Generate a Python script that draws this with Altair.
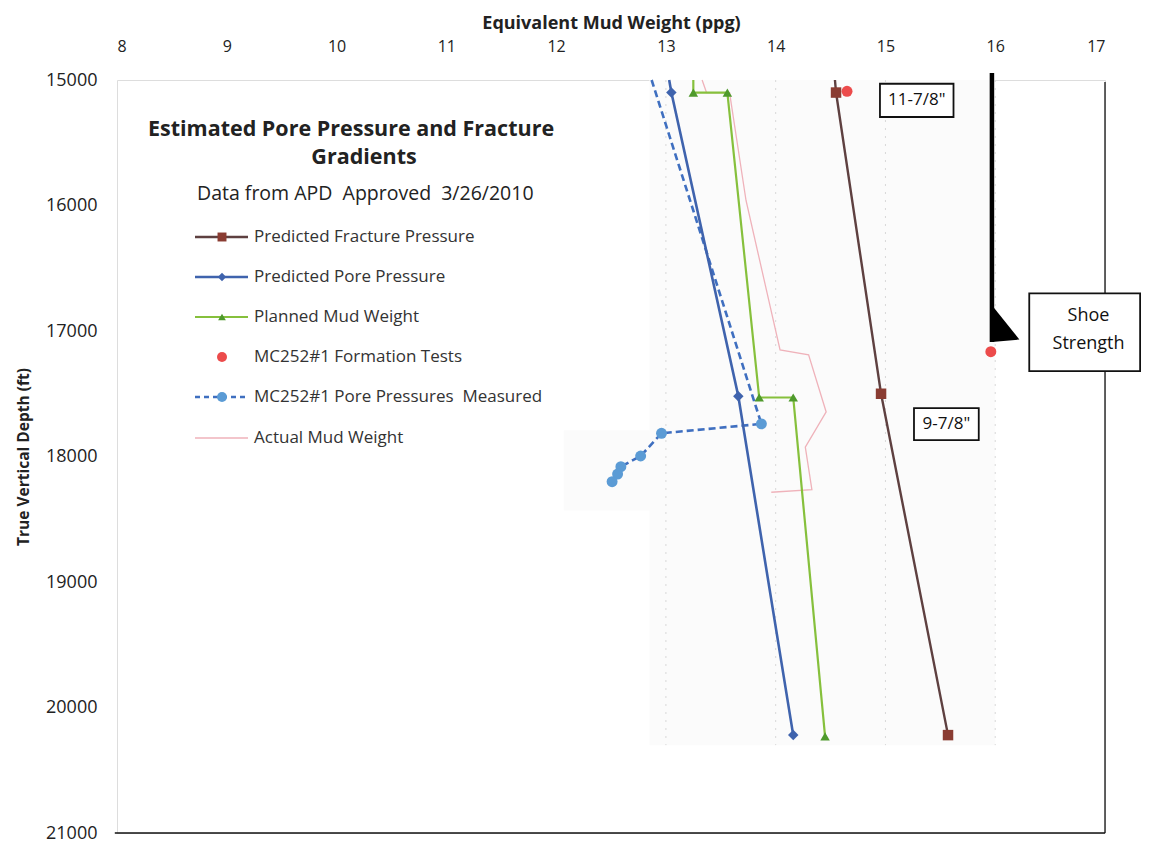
import altair as alt
import pandas as pd

FONT = "Open Sans"

# ---------------- data ----------------
x_ticks = [8, 9, 10, 11, 12, 13, 14, 15, 16, 17]
y_ticks = [15000, 16000, 17000, 18000, 19000, 20000, 21000]

frac_depth = [15000, 15100, 17500, 20220]
frac_ppg = [14.54, 14.55, 14.96, 15.57]

pore_depth = [15000, 15100, 17520, 20220]
pore_ppg = [13.03, 13.05, 13.66, 14.16]

plan_depth = [15000, 15100, 15100, 17530, 17530, 20230]
plan_ppg = [13.25, 13.25, 13.56, 13.85, 14.16, 14.45]

test_depth = [15090, 17165]
test_ppg = [14.65, 15.96]

meas_depth = [15000, 17740, 17815, 17996, 18081, 18140, 18201]
meas_ppg = [12.87, 13.87, 12.96, 12.77, 12.59, 12.56, 12.51]

actual_depth = [15000, 15100, 15100, 15960, 17150, 17190, 17645, 17925, 18265, 18285]
actual_ppg = [13.33, 13.37, 13.58, 13.73, 14.04, 14.30, 14.46, 14.27, 14.33, 13.96]

grid_ppg = [13, 14, 15, 16]

legend_labels = [
    "Predicted Fracture Pressure",
    "Predicted Pore Pressure",
    "Planned Mud Weight",
    "MC252#1 Formation Tests",
    "MC252#1 Pore Pressures\u00a0 Measured",
    "Actual Mud Weight",
]

title_lines = ["Estimated Pore Pressure and Fracture", "Gradients"]
subtitle = "Data from APD\u00a0 Approved\u00a0 3/26/2010"

box_labels = ["11-7/8\"", "9-7/8\""]
box_x1 = [14.95, 15.26]
box_x2 = [15.62, 15.85]
box_y1 = [15030, 17615]
box_y2 = [15295, 17870]

shoe_label = ["Shoe", "Strength"]
shoe_box = dict(ppg=16.31, ppg2=17.32, depth=16700, depth2=17320)
shoe_line = dict(ppg=15.97, depth=14945, depth2=17088)
shoe_tri_ppg = [15.97, 16.22]
shoe_tri_top = [16795, 17068]
shoe_tri_bot = [17088, 17068]

# ---------------- colours ----------------
C_FRAC_LINE = "#5e4040"
C_FRAC_MARK = "#8a3c32"
C_PORE = "#3f63ad"
C_PLAN_LINE = "#86c03c"
C_PLAN_MARK = "#4f9a2c"
C_TEST = "#ec4b4b"
C_MEAS_LINE = "#3f6fc0"
C_MEAS_MARK = "#5b9bd5"
C_ACT = "#efb2ba"


def df(ppg, depth):
    return pd.DataFrame({"ppg": ppg, "depth": depth, "i": list(range(len(ppg)))})


xscale = alt.Scale(domain=[8, 17], nice=False, zero=False)
yscale = alt.Scale(domain=[15000, 21000], reverse=True, nice=False, zero=False)

xaxis = alt.Axis(
    orient="top", values=x_ticks, grid=False, domain=False, ticks=False, tickSize=0,
    labelFontSize=16, labelPadding=26, labelColor="#222", labelFont=FONT,
    title="Equivalent Mud Weight (ppg)", titleFontSize=18, titleFontWeight="bold",
    titleFont=FONT, titleColor="#222", titlePadding=6,
)
yaxis = alt.Axis(
    orient="left", values=y_ticks, format="d", grid=False, domain=False, ticks=False, tickSize=0,
    labelFontSize=18, labelPadding=20, labelColor="#222", labelFont=FONT,
    title="True Vertical Depth (ft)", titleFontSize=15.5, titleFontWeight="bold",
    titleFont=FONT, titleColor="#222", titlePadding=14,
)

X = alt.X("ppg:Q", scale=xscale, axis=xaxis)
Y = alt.Y("depth:Q", scale=yscale, axis=yaxis)
ORD = alt.Order("i:Q")

layers = []

# faint background of the pasted figure
shade = pd.DataFrame({"ppg": [12.85, 12.07], "ppg2": [16.0, 13.75],
                      "depth": [15000, 17790], "depth2": [20300, 18430]})
layers.append(alt.Chart(shade).mark_rect(color="#fbfbfb").encode(
    x=X, x2="ppg2:Q", y=Y, y2="depth2:Q"))

# dotted grid lines
grid_df = pd.DataFrame({"ppg": grid_ppg, "depth": [15000] * 4, "depth2": [20300] * 4})
layers.append(alt.Chart(grid_df).mark_rule(color="#d8d8d8", strokeDash=[2, 6], strokeWidth=1).encode(
    x=X, y=Y, y2="depth2:Q"))

# frame lines (bottom and right)
frame_b = pd.DataFrame({"ppg": [7.98], "ppg2": [17.0], "depth": [21000]})
layers.append(alt.Chart(frame_b).mark_rule(color="#111", strokeWidth=1.6).encode(
    x=X, x2="ppg2:Q", y=Y))
frame_r = pd.DataFrame({"ppg": [17.0], "depth": [15015], "depth2": [21000]})
layers.append(alt.Chart(frame_r).mark_rule(color="#111", strokeWidth=1.3).encode(
    x=X, y=Y, y2="depth2:Q"))

# actual mud weight
layers.append(alt.Chart(df(actual_ppg, actual_depth)).mark_line(color=C_ACT, strokeWidth=1.3).encode(
    x=X, y=Y, order=ORD))

# measured pore pressures
meas = df(meas_ppg, meas_depth)
layers.append(alt.Chart(meas).mark_line(color=C_MEAS_LINE, strokeWidth=2.6, strokeDash=[7, 4]).encode(
    x=X, y=Y, order=ORD))
layers.append(alt.Chart(meas).transform_filter("datum.depth > 15000").mark_point(
    shape="circle", filled=True, color=C_MEAS_MARK, size=120, opacity=1).encode(x=X, y=Y))

# predicted pore pressure
pore = df(pore_ppg, pore_depth)
layers.append(alt.Chart(pore).mark_line(color=C_PORE, strokeWidth=2.6).encode(x=X, y=Y, order=ORD))
layers.append(alt.Chart(pore).transform_filter("datum.depth > 15000").mark_point(
    shape="diamond", filled=True, color=C_PORE, size=110, opacity=1).encode(x=X, y=Y))

# planned mud weight
plan = df(plan_ppg, plan_depth)
layers.append(alt.Chart(plan).mark_line(color=C_PLAN_LINE, strokeWidth=2.2).encode(x=X, y=Y, order=ORD))
layers.append(alt.Chart(plan).transform_filter("datum.depth > 15000").mark_point(
    shape="triangle-up", filled=True, color=C_PLAN_MARK, size=90, opacity=1).encode(x=X, y=Y))

# predicted fracture pressure
frac = df(frac_ppg, frac_depth)
layers.append(alt.Chart(frac).mark_line(color=C_FRAC_LINE, strokeWidth=2.4).encode(x=X, y=Y, order=ORD))
layers.append(alt.Chart(frac).transform_filter("datum.depth > 15000").mark_point(
    shape="square", filled=True, color=C_FRAC_MARK, size=110, opacity=1).encode(x=X, y=Y))

# formation tests
layers.append(alt.Chart(df(test_ppg, test_depth)).mark_point(
    shape="circle", filled=True, color=C_TEST, size=120, opacity=1).encode(x=X, y=Y))

# shoe strength marker: thick line + triangle
sl = pd.DataFrame({k: [v] for k, v in shoe_line.items()})
layers.append(alt.Chart(sl).mark_rule(color="#000", strokeWidth=4.5).encode(x=X, y=Y, y2="depth2:Q"))
tri = pd.DataFrame({"ppg": shoe_tri_ppg, "depth": shoe_tri_top, "depth2": shoe_tri_bot})
layers.append(alt.Chart(tri).mark_area(color="#000", opacity=1).encode(x=X, y=Y, y2="depth2:Q"))

# casing boxes
boxes = pd.DataFrame({"ppg": box_x1, "ppg2": box_x2, "depth": box_y1, "depth2": box_y2,
                      "label": box_labels})
boxes["cx"] = (boxes["ppg"] + boxes["ppg2"]) / 2
boxes["cy"] = (boxes["depth"] + boxes["depth2"]) / 2
layers.append(alt.Chart(boxes).mark_rect(fill="white", stroke="#111", strokeWidth=1.8).encode(
    x=X, x2="ppg2:Q", y=Y, y2="depth2:Q"))
layers.append(alt.Chart(boxes).mark_text(font=FONT, fontSize=17, color="#111", baseline="middle").encode(
    x=alt.X("cx:Q", scale=xscale, axis=xaxis), y=alt.Y("cy:Q", scale=yscale, axis=yaxis), text="label:N"))

sb = pd.DataFrame({k: [v] for k, v in shoe_box.items()})
layers.append(alt.Chart(sb).mark_rect(fill="white", stroke="#111", strokeWidth=1.8).encode(
    x=X, x2="ppg2:Q", y=Y, y2="depth2:Q"))
sbt = pd.DataFrame({"ppg": [16.85, 16.85],
                    "depth": [16880, 17100], "label": shoe_label})
layers.append(alt.Chart(sbt).mark_text(font=FONT, fontSize=18, color="#111", baseline="middle").encode(
    x=X, y=Y, text="label:N"))

# ---------------- in-plot title and legend ----------------
one = pd.DataFrame({"a": [0]})


def txt(s, x, y, size, weight="normal", align="left", color="#333"):
    return alt.Chart(one).mark_text(font=FONT, fontSize=size, fontWeight=weight, align=align,
                                    baseline="middle", color=color).encode(
        x=alt.value(x), y=alt.value(y), text=alt.value(s))


layers.append(txt(title_lines[0], 234, 50, 21.5, "bold", "center", "#222"))
layers.append(txt(title_lines[1], 247, 78, 21.5, "bold", "center", "#222"))
layers.append(txt(subtitle, 80, 114, 19.5, "normal", "left", "#222"))

leg_y = [157, 197, 237, 277, 317, 358]
LX1, LX2, LXM, LXT = 78, 131, 105, 137

leg_specs = [
    dict(line=C_FRAC_LINE, dash=None, w=2.4, shape="square", mcol=C_FRAC_MARK, size=80),
    dict(line=C_PORE, dash=None, w=2.4, shape="diamond", mcol=C_PORE, size=70),
    dict(line=C_PLAN_LINE, dash=None, w=2.0, shape="triangle-up", mcol=C_PLAN_MARK, size=60),
    dict(line=None, dash=None, w=0, shape="circle", mcol=C_TEST, size=100),
    dict(line=C_MEAS_LINE, dash=[5, 4], w=2.4, shape="circle", mcol=C_MEAS_MARK, size=100),
    dict(line=C_ACT, dash=None, w=1.3, shape=None, mcol=None, size=0),
]

for yy, lab, sp in zip(leg_y, legend_labels, leg_specs):
    if sp["line"]:
        kw = dict(color=sp["line"], strokeWidth=sp["w"])
        if sp["dash"]:
            kw["strokeDash"] = sp["dash"]
        layers.append(alt.Chart(one).mark_rule(**kw).encode(
            x=alt.value(LX1), x2=alt.value(LX2), y=alt.value(yy)))
    if sp["shape"]:
        layers.append(alt.Chart(one).mark_point(shape=sp["shape"], filled=True, color=sp["mcol"],
                                                size=sp["size"], opacity=1).encode(
            x=alt.value(LXM), y=alt.value(yy)))
    layers.append(txt(lab, LXT, yy, 17, "normal", "left", "#333"))

chart = alt.layer(*layers).properties(
    width=988, height=753,
    autosize=alt.AutoSizeParams(type="none"),
    padding={"left": 109, "top": 72, "right": 36, "bottom": 12},
    background="white",
).configure_view(stroke=None).configure(font=FONT)

chart.save("out.html", embed_options={"renderer": "svg", "actions": False})
